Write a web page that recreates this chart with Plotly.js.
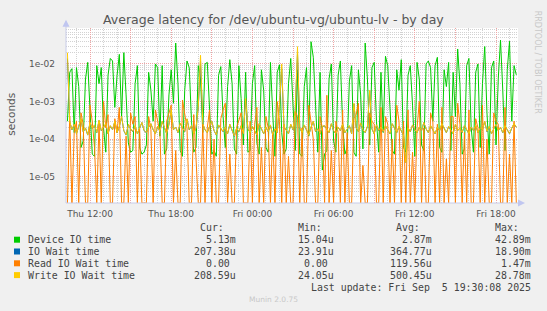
<!DOCTYPE html>
<html><head><meta charset="utf-8">
<script src="https://cdn.plot.ly/plotly-3.0.1.min.js"></script>
<style>html,body{margin:0;padding:0;background:#F0F0F0;}#chart{width:547px;height:311px;}</style>
</head><body><div id="chart"></div>
<script>
// ---- data (values in microseconds, 10-minute samples starting Thu 2025-09-04 10:20) ----
const startYear = 2025, startMonth = 8, startDay = 4, startHour = 10, startMinute = 20;
const stepMinutes = 10;

const deviceIO = [
300,6000,7500,150,8000,2500,60,90,4000,11000,600,40,35,9000,3000,8000,200,45,5000,14000,
12000,700,5000,18000,400,20000,1500,80,45,50,3000,9000,60,40,45,70,6000,2000,300,10000,
8000,120,9000,40,55,1500,7000,900,36000,3000,50,35,2000,12000,8000,300,45,60,9000,4000,
150,10000,11000,700,40,50,35,5000,8500,400,60,2500,13000,3000,55,40,9000,1200,70,6000,
45,50,3000,9000,80,40,7000,2000,60,45,11000,500,35,6000,9500,150,40,55,3000,14000,
600,50,7000,40,35,2500,8000,120,39000,15000,800,45,6000,15.04,40,50,4000,10000,90,45,
5000,12000,250,40,60,3500,9000,45,35,7000,1500,55,36000,4000,70,8000,11000,300,45,6000,
150,16000,9000,400,50,40,7000,2000,13000,60,45,5000,9000,800,35,11000,4000,70,50,10000,
12000,8000,300,9000,15000,60,45,7000,2500,11000,50,6000,400,25000,3000,40,55,9000,14000,200,
45,6000,10000,60,3000,29000,500,40,8000,12000,70,4000,42890,2000,50,7000,40000,300,9000,5130
];
const ioWait = [
14000,295,177,246,138,216,344,157,197,128,276,187,236,148,315,167,207,256,138,226,
177,295,148,216,394,167,128,246,187,157,226,138,197,276,167,148,207,256,177,138,
216,157,295,187,138,246,590,177,207,148,266,197,157,344,177,226,138,197,690,12000,
256,177,148,216,295,167,128,236,187,157,207,138,246,177,118,197,157,226,138,1150,
187,148,216,167,128,256,177,138,207,157,236,128,187,148,760,7500,216,167,138,246,
177,580,18900,197,148,236,167,128,207,295,157,187,138,216,226,177,148,256,167,138,
207,167,246,148,187,226,138,860,197,157,266,177,148,216,1900,187,138,236,167,207,
157,226,177,138,256,187,148,216,167,128,23.91,197,157,236,177,148,207,167,276,187,
148,226,177,138,207,167,256,187,148,216,177,138,246,167,197,148,226,177,138,207,
167,236,148,197,177,295,157,216,138,187,246,167,207,148,226,177,138,197,256,207.38
];
const readWait = [
0,400,0,150,300,0,500,250,0,0,800,300,60,0,300,0,1000,200,450,0,
0,350,150,700,0,0,120,0,500,250,400,0,200,0,0,0,400,180,0,600,
300,150,0,0,300,500,800,0,50,0,0,1100,400,200,0,0,450,30,0,0,
250,0,200,600,0,100,0,0,350,600,900,0,40,0,0,200,300,500,0,0,
0,300,0,250,700,0,60,0,400,200,0,150,0,1000,300,0,250,0,35,0,
0,550,400,0,200,0,0,800,300,100,0,0,400,200,0,1470,0,50,0,300,
150,0,600,0,150,0,0,350,450,900,0,20,0,0,500,300,250,0,0,700,
0,400,250,0,100,0,800,300,0,300,0,600,0,45,0,200,1000,0,200,0,
0,500,300,0,250,0,700,0,30,0,400,400,0,900,250,0,150,0,600,0,
0,350,200,0,800,0,100,0,0,500,300,250,0,0,700,0,40,0,300,0
];
const writeWait = [
20000,300,180,250,140,220,350,160,200,130,280,190,240,150,320,170,210,260,140,230,
180,300,150,220,400,170,130,250,190,160,230,140,200,280,170,150,210,260,180,140,
220,160,300,190,140,250,600,180,210,150,270,200,160,350,180,230,140,200,700,17000,
260,180,150,220,300,170,130,240,190,160,210,140,250,180,120,200,160,230,140,1200,
190,150,220,170,130,260,180,140,210,160,240,130,190,150,800,10000,220,170,140,250,
180,600,28780,200,150,240,170,130,210,300,160,190,140,220,230,180,150,260,170,140,
210,170,250,150,190,230,140,900,200,160,270,180,150,220,2000,190,140,240,170,210,
160,230,180,140,260,190,150,220,170,130,24.05,200,160,240,180,150,210,170,280,190,
150,230,180,140,210,170,260,190,150,220,180,140,250,170,200,150,230,180,140,210,
170,240,150,200,180,300,160,220,140,190,250,170,210,150,230,180,140,200,260,208.59
];

const seriesNames = ['Device IO time','IO Wait time','Read IO Wait time','Write IO Wait time'];
const seriesColors = ['#00CC00','#0066B3','#FF8000','#FFCC00'];
const curText = ['5.13m','207.38u','0.00\u00a0','208.59u'];
const minText = ['15.04u','23.91u','0.00\u00a0','24.05u'];
const avgText = ['2.87m','364.77u','119.56u','500.45u'];
const maxText = ['42.89m','18.90m','1.47m','28.78m'];

const yTickVals = [1e-5,1e-4,1e-3,1e-2];
const yTickText = ['1e-05','1e-04','1e-03','1e-02'];
const xTickVals = ['2025-09-04 12:00','2025-09-04 15:00','2025-09-04 18:00','2025-09-04 21:00',
  '2025-09-05 00:00','2025-09-05 03:00','2025-09-05 06:00','2025-09-05 09:00',
  '2025-09-05 12:00','2025-09-05 15:00','2025-09-05 18:00'];
const xTickText = ['Thu 12:00','','Thu 18:00','','Fri 00:00','','Fri 06:00','','Fri 12:00','','Fri 18:00'];

// ---- build ----
const t0 = Date.UTC(startYear,startMonth,startDay,startHour,startMinute);
const times = deviceIO.map((_,i)=> t0 + i*stepMinutes*60000);
const yRange = [-5.698,-1.044];
const floorVal = Math.pow(10, yRange[0]);
const toSec = arr => arr.map(v => v > 0 ? v/1e6 : floorVal);

const seriesData = [deviceIO, ioWait, readWait, writeWait];
const traces = seriesData.map((arr,k)=>({
  x: times, y: toSec(arr), type:'scatter', mode:'lines',
  line:{color:seriesColors[k], width:1}, hoverinfo:'skip', showlegend:false
}));

const L=66, R=518, T=28.3, B=203.3;
const px = x => (x-L)/(R-L);
const py = y => (B-y)/(B-T);
const mono = 'DejaVu Sans Mono, monospace';
const txtCol = '#444';
const ann = [];
const shapes = [];
function text(x,y,s,opt){
  ann.push(Object.assign({xref:'paper',yref:'paper',x:px(x),y:py(y),text:s,showarrow:false,
    xanchor:'left',yanchor:'middle',font:{family:mono,size:9.9,color:txtCol}},opt||{}));
}
ann.push({xref:'paper',yref:'paper',x:px(273.5),y:py(19.5),text:'Average latency for /dev/ubuntu-vg/ubuntu-lv - by day',
  showarrow:false,xanchor:'center',yanchor:'middle',font:{family:'DejaVu Sans',size:12.5,color:'#555'}});
ann.push({xref:'paper',yref:'paper',x:px(11),y:py(115),text:'seconds',textangle:-90,
  showarrow:false,xanchor:'center',yanchor:'middle',font:{family:'DejaVu Sans',size:10.5,color:'#555'}});
ann.push({xref:'paper',yref:'paper',x:px(537),y:py(62),text:'RRDTOOL / TOBI OETIKER',textangle:90,
  showarrow:false,xanchor:'center',yanchor:'middle',font:{family:'DejaVu Sans',size:8,color:'#c8c8c8'}});
const headerY = 227.5;
const colRight = [237.5,336.1,434,532.6];
['Cur:','Min:','Avg:','Max:'].forEach((h,j)=> text(colRight[j]-12,headerY,h,{xanchor:'right'}));
const rowY = [240,251.8,263.6,275.4];
seriesNames.forEach((n,k)=>{
  text(26,rowY[k],n);
  [curText,minText,avgText,maxText].forEach((col,j)=> text(colRight[j],rowY[k],col[k],{xanchor:'right'}));
  shapes.push({type:'rect',xref:'paper',yref:'paper',x0:px(14),x1:px(20),y0:py(rowY[k]+3),y1:py(rowY[k]-3),
    fillcolor:seriesColors[k],line:{width:0}});
});
text(532.6,287.7,'Last update: Fri Sep \u00a05 19:30:08 2025',{xanchor:'right'});
ann.push({xref:'paper',yref:'paper',x:px(273.5),y:py(300),text:'Munin 2.0.75',
  showarrow:false,xanchor:'center',yanchor:'middle',font:{family:'DejaVu Sans',size:7.5,color:'#c8c8c8'}});

const axCol = '#c8cce8';
shapes.push({type:'line',xref:'paper',yref:'paper',x0:px(66),x1:px(66),y0:py(B),y1:py(22),line:{color:axCol,width:1}});
shapes.push({type:'path',xref:'paper',yref:'paper',path:`M ${px(62.5)},${py(27)} L ${px(69.5)},${py(27)} L ${px(66)},${py(20)} Z`,fillcolor:'#c0c6f0',line:{width:0}});
shapes.push({type:'line',xref:'paper',yref:'paper',x0:px(66),x1:px(520),y0:0,y1:0,line:{color:axCol,width:1}});
shapes.push({type:'path',xref:'paper',yref:'paper',path:`M ${px(518)},${py(199.8)} L ${px(518)},${py(206.8)} L ${px(525)},${py(203.3)} Z`,fillcolor:'#c0c6f0',line:{width:0}});

const minorGray = '#d2d2d2';
const majorRed = '#f0a4a4';
const layout = {
  width:547, height:311,
  margin:{l:L, r:547-R, t:T, b:311-B},
  paper_bgcolor:'#F0F0F0', plot_bgcolor:'#FFFFFF',
  showlegend:false,
  xaxis:{type:'date', range:['2025-09-04 10:13:36','2025-09-05 19:37:32'],
    tickmode:'array', tickvals:xTickVals, ticktext:xTickText,
    showgrid:true, gridcolor:majorRed, griddash:'1px,1px', gridwidth:1,
    minor:{tickmode:'linear', tick0:'2025-09-04 00:00', dtick:3600000, showgrid:true, gridcolor:minorGray, griddash:'1px,1px', gridwidth:1},
    showline:false, zeroline:false, ticks:'', ticklabelstandoff:4,
    tickfont:{family:'DejaVu Sans', size:9, color:'#555'}, fixedrange:true},
  yaxis:{type:'log', range:yRange, tickmode:'array', tickvals:yTickVals, ticktext:yTickText,
    showgrid:true, gridcolor:majorRed, griddash:'1px,1px', gridwidth:1,
    minor:{dtick:'D1', showgrid:true, gridcolor:minorGray, griddash:'1px,1px', gridwidth:1},
    showline:false, zeroline:false, ticks:'', ticklabelstandoff:10,
    tickfont:{family:'DejaVu Sans', size:9, color:'#555'}, fixedrange:true},
  annotations:ann, shapes:shapes
};
Plotly.newPlot('chart', traces, layout, {staticPlot:true, displayModeBar:false});
</script></body></html>
